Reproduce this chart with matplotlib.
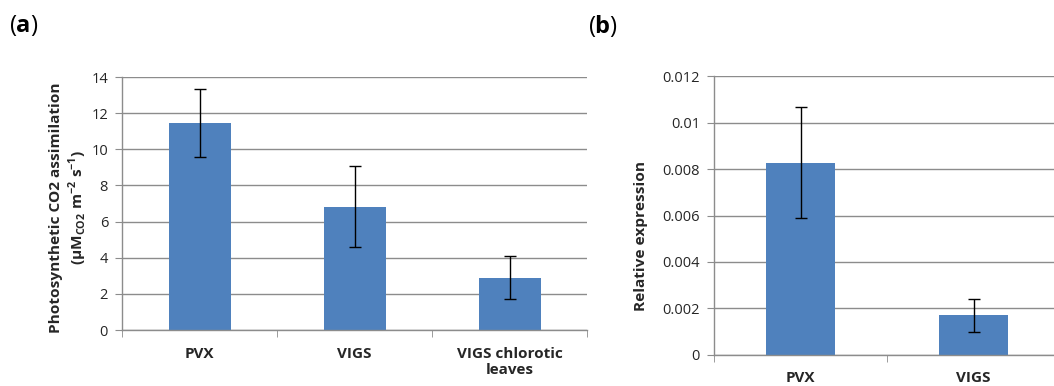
import matplotlib
matplotlib.use("Agg")
import matplotlib.pyplot as plt
from matplotlib.ticker import FixedLocator, NullFormatter

plt.rcParams['font.family'] = ['Open Sans', 'DejaVu Sans']
plt.rcParams['mathtext.fontset'] = 'custom'
plt.rcParams['mathtext.rm'] = 'Open Sans'
plt.rcParams['mathtext.bf'] = 'Open Sans:bold'

# Panel (a)
cats_a = ["PVX", "VIGS", "VIGS chlorotic\nleaves"]
vals_a = [11.45, 6.82, 2.90]
errs_a = [1.89, 2.25, 1.17]
yticks_a = [0, 2, 4, 6, 8, 10, 12, 14]

# Panel (b)
cats_b = ["PVX", "VIGS"]
vals_b = [0.00828, 0.00170]
errs_b = [0.00239, 0.00072]
yticks_b = [0, 0.002, 0.004, 0.006, 0.008, 0.01, 0.012]
yticklabels_b = ["0", "0.002", "0.004", "0.006", "0.008", "0.01", "0.012"]

BAR = "#4F81BD"
GRID = "#8C8C8C"
TXT = "#262626"

fig = plt.figure(figsize=(10.54, 3.86), dpi=100)

def style(ax, n, ymax, yticks, yticklabels=None):
    ax.set_xlim(-0.5, n - 0.5)
    ax.set_ylim(0, ymax)
    ax.set_yticks(yticks)
    if yticklabels is not None:
        ax.set_yticklabels(yticklabels)
    ax.yaxis.grid(True, color=GRID, linewidth=1.0)
    ax.set_axisbelow(True)
    for s in ["top", "right"]:
        ax.spines[s].set_visible(False)
    ax.spines["left"].set_color(GRID)
    ax.spines["bottom"].set_color(GRID)
    ax.spines["left"].set_linewidth(1.0)
    ax.spines["bottom"].set_linewidth(1.0)
    ax.tick_params(axis="y", length=5, color=GRID, labelsize=10.5, labelcolor=TXT, pad=5)
    ax.tick_params(axis="x", which="major", length=0, labelsize=11, labelcolor=TXT, pad=12)
    ax.xaxis.set_minor_locator(FixedLocator([i - 0.5 for i in range(n + 1)]))
    ax.xaxis.set_minor_formatter(NullFormatter())
    ax.tick_params(axis="x", which="minor", length=5, color=GRID, direction="out")
    for lab in ax.get_xticklabels():
        lab.set_fontweight("bold")

ax1 = fig.add_axes([122/1054, 1 - 330/386, 465/1054, 253/386])
x1 = range(len(cats_a))
ax1.bar(x1, vals_a, width=0.4, color=BAR, yerr=errs_a,
        error_kw=dict(ecolor="black", elinewidth=1.0, capsize=4, capthick=1.0))
ax1.set_xticks(list(x1))
ax1.set_xticklabels(cats_a)
style(ax1, len(cats_a), 14, yticks_a)
ax1.set_ylabel("Photosynthetic CO2 assimilation\n(µM$_{\\mathbf{CO2}}$ m$^{\\mathbf{-2}}$ s$^{\\mathbf{-1}}$)",
               fontsize=11.1, fontweight="bold", color=TXT, linespacing=1.25)
ax1.yaxis.set_label_coords(-(122 - 89) / 465, (330 - 207.5) / 253)

ax2 = fig.add_axes([714/1054, 1 - 354.7/386, 346/1054, 278.4/386])
x2 = range(len(cats_b))
ax2.bar(x2, vals_b, width=0.4, color=BAR, yerr=errs_b,
        error_kw=dict(ecolor="black", elinewidth=1.0, capsize=4, capthick=1.0))
ax2.set_xticks(list(x2))
ax2.set_xticklabels(cats_b)
style(ax2, len(cats_b), 0.012, yticks_b, yticklabels_b)
ax2.set_ylabel("Relative expression", fontsize=11.1, fontweight="bold", color=TXT)
ax2.yaxis.set_label_coords(-(714 - 648) / 346, (354.7 - 236) / 278.4)

fig.text(9/1054, 1 - 26/386, "($\\mathbf{a}$)", fontsize=17, color="black", va="center", ha="left")
fig.text(588/1054, 1 - 26/386, "($\\mathbf{b}$)", fontsize=17, color="black", va="center", ha="left")

fig.savefig("out.png", dpi=100)
